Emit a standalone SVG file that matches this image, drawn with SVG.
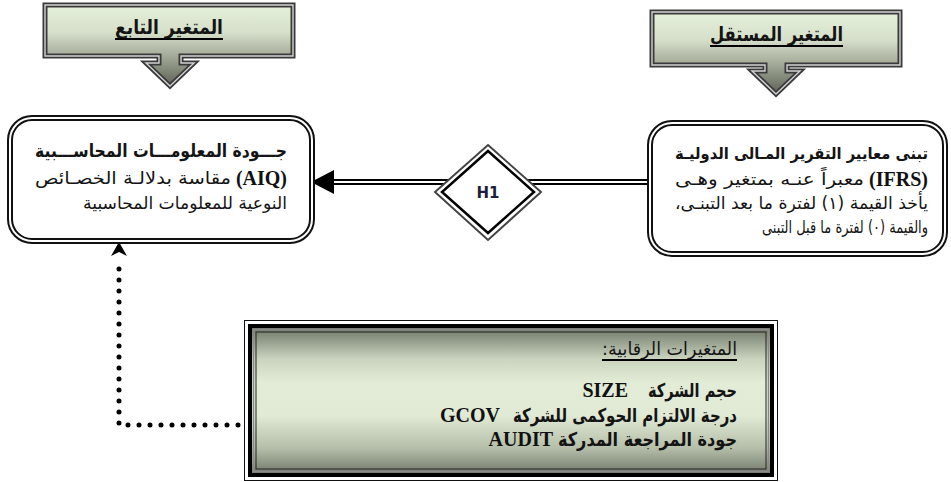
<svg xmlns="http://www.w3.org/2000/svg" width="951" height="482" viewBox="0 0 951 482">
<defs>
<linearGradient id="hg1" x1="0" y1="3" x2="0" y2="88" gradientUnits="userSpaceOnUse">
<stop offset="0" stop-color="#e7f2dc"/><stop offset="0.35" stop-color="#d5dfca"/><stop offset="0.65" stop-color="#9fa593"/><stop offset="1" stop-color="#565d50"/>
</linearGradient>
<linearGradient id="hg2" x1="0" y1="10" x2="0" y2="96" gradientUnits="userSpaceOnUse">
<stop offset="0" stop-color="#e7f2dc"/><stop offset="0.35" stop-color="#d5dfca"/><stop offset="0.65" stop-color="#9fa593"/><stop offset="1" stop-color="#565d50"/>
</linearGradient>
<linearGradient id="cg" x1="0" y1="0" x2="0" y2="1">
<stop offset="0" stop-color="#6a7262"/><stop offset="0.22" stop-color="#c9d3be"/><stop offset="0.38" stop-color="#e2ecd7"/><stop offset="0.6" stop-color="#e0ead5"/><stop offset="0.82" stop-color="#b5bea9"/><stop offset="1" stop-color="#6f7669"/>
</linearGradient>
</defs>
<style>
.ar{font-family:"DejaVu Sans","Noto Sans",sans-serif;fill:#141414}
.b{font-weight:bold}
.lat{font-family:"Liberation Serif","Times New Roman",serif;font-weight:bold;fill:#111}
.hdr-o{stroke:#3a3a3a;stroke-width:5;stroke-linejoin:miter}
.hdr-i{fill:none;stroke:#d2d2d2;stroke-width:1.4}
.node-o{fill:#fff;stroke:#111;stroke-width:6}
.node-i{fill:none;stroke:#fff;stroke-width:2}
.ul{stroke:#000;stroke-width:2}
</style>

<g id="header-dependent">
<path class="hdr-o" fill="url(#hg1)" d="M45,5 H293 V56 H181 V63 H194 L170,86 L146,63 H159 V56 H45 Z"/>
<path class="hdr-i" d="M45,5 H293 V56 H181 V63 H194 L170,86 L146,63 H159 V56 H45 Z"/>
<text class="ar b" x="223" y="34" font-size="20" text-anchor="end" textLength="108" lengthAdjust="spacingAndGlyphs">المتغير التابع</text>
<line class="ul" x1="115" y1="39" x2="223" y2="39"/>
</g>

<g id="header-independent">
<path class="hdr-o" fill="url(#hg2)" d="M652,12 H900 V65 H787 V71 H800 L776,94 L752,71 H765 V65 H652 Z"/>
<path class="hdr-i" d="M652,12 H900 V65 H787 V71 H800 L776,94 L752,71 H765 V65 H652 Z"/>
<text class="ar b" x="843" y="41" font-size="20" text-anchor="end" textLength="133" lengthAdjust="spacingAndGlyphs">المتغير المستقل</text>
<line class="ul" x1="710" y1="46" x2="843" y2="46"/>
</g>

<g id="connectors">
<line x1="330" y1="182" x2="647" y2="182" stroke="#000" stroke-width="6"/>
<line x1="330" y1="182" x2="647" y2="182" stroke="#fff" stroke-width="2"/>
<path d="M311,182 L334,170 L334,194 Z" fill="#000"/>
<path d="M238,425 H119 V258" fill="none" stroke="#000" stroke-width="5" stroke-linecap="round" stroke-dasharray="0 11"/>
<path d="M119,242 L127,256 L119,252 L111,256 Z" fill="#000"/>
</g>

<g id="node-dependent">
<rect class="node-o" x="10" y="118" width="302" height="123" rx="22"/>
<rect class="node-i" x="10" y="118" width="302" height="123" rx="22"/>
<text class="ar b" x="287" y="157" font-size="18" text-anchor="end" textLength="252" lengthAdjust="spacingAndGlyphs">جـــودة المعلومـــات المحاســـبية</text>
<text class="lat" x="287" y="185" font-size="20" text-anchor="end">(AIQ)</text>
<text class="ar" x="231" y="184" font-size="17" text-anchor="end" textLength="196" lengthAdjust="spacingAndGlyphs">مقاسة بدلالـة الخصـائص</text>
<text class="ar" x="287" y="209" font-size="17" text-anchor="end" textLength="204" lengthAdjust="spacingAndGlyphs">النوعية للمعلومات المحاسبية</text>
</g>

<g id="node-independent">
<rect class="node-o" x="650" y="123" width="295" height="131" rx="22"/>
<rect class="node-i" x="650" y="123" width="295" height="131" rx="22"/>
<text class="ar b" x="928" y="159" font-size="16" text-anchor="end" textLength="253" lengthAdjust="spacingAndGlyphs">تبنى معايير التقرير المـالى الدوليـة</text>
<text class="lat" x="928" y="186" font-size="20" text-anchor="end">(IFRS)</text>
<text class="ar" x="864" y="185" font-size="17" text-anchor="end" textLength="189" lengthAdjust="spacingAndGlyphs">معبراً عنـه بمتغير وهـى</text>
<text class="ar" x="928" y="209" font-size="17" text-anchor="end" textLength="253" lengthAdjust="spacingAndGlyphs">يأخذ القيمة (١) لفترة ما بعد التبنـى،&#x200F;</text>
<text class="ar" x="928" y="233" font-size="17" text-anchor="end" textLength="166" lengthAdjust="spacingAndGlyphs">والقيمة (٠) لفترة ما قبل التبنى</text>
</g>

<g id="hypothesis-h1">
<polygon points="488,145 541,192 488,240 435,192" fill="#fff" stroke="#444" stroke-width="2"/>
<polygon points="488,151 534,192 488,233 442,192" fill="#fff" stroke="#000" stroke-width="2.5"/>
<text x="488" y="198" font-family="DejaVu Sans, sans-serif" font-weight="bold" font-size="15" fill="#1b1f3a" text-anchor="middle">H1</text>
</g>

<g id="control-variables">
<rect x="244.5" y="320.5" width="533" height="160" fill="#fff" stroke="#111" stroke-width="1"/>
<rect x="250" y="326" width="522" height="149" fill="url(#cg)" stroke="#000" stroke-width="4"/>
<rect x="253.5" y="329.5" width="515" height="142" fill="none" stroke="#8a8a8a" stroke-width="1.5"/>
<rect x="256" y="332" width="510" height="137" fill="none" stroke="#222" stroke-width="1"/>
<text class="ar" x="737" y="355" font-size="18" text-anchor="end" textLength="135" lengthAdjust="spacingAndGlyphs">المتغيرات الرقابية:&#x200F;</text>
<line class="ul" x1="602" y1="360" x2="737" y2="360"/>
<text class="ar b" x="737" y="397" font-size="19" text-anchor="end" textLength="89" lengthAdjust="spacingAndGlyphs">حجم الشركة</text>
<text class="lat" x="628" y="397" font-size="20" text-anchor="end">SIZE</text>
<text class="ar b" x="737" y="422" font-size="19" text-anchor="end" textLength="224" lengthAdjust="spacingAndGlyphs">درجة الالتزام الحوكمى للشركة</text>
<text class="lat" x="500" y="422" font-size="20" text-anchor="end">GCOV</text>
<text class="ar b" x="737" y="446" font-size="19" text-anchor="end" textLength="179" lengthAdjust="spacingAndGlyphs">جودة المراجعة المدركة</text>
<text class="lat" x="553" y="446" font-size="20" text-anchor="end">AUDIT</text>
</g>
</svg>
